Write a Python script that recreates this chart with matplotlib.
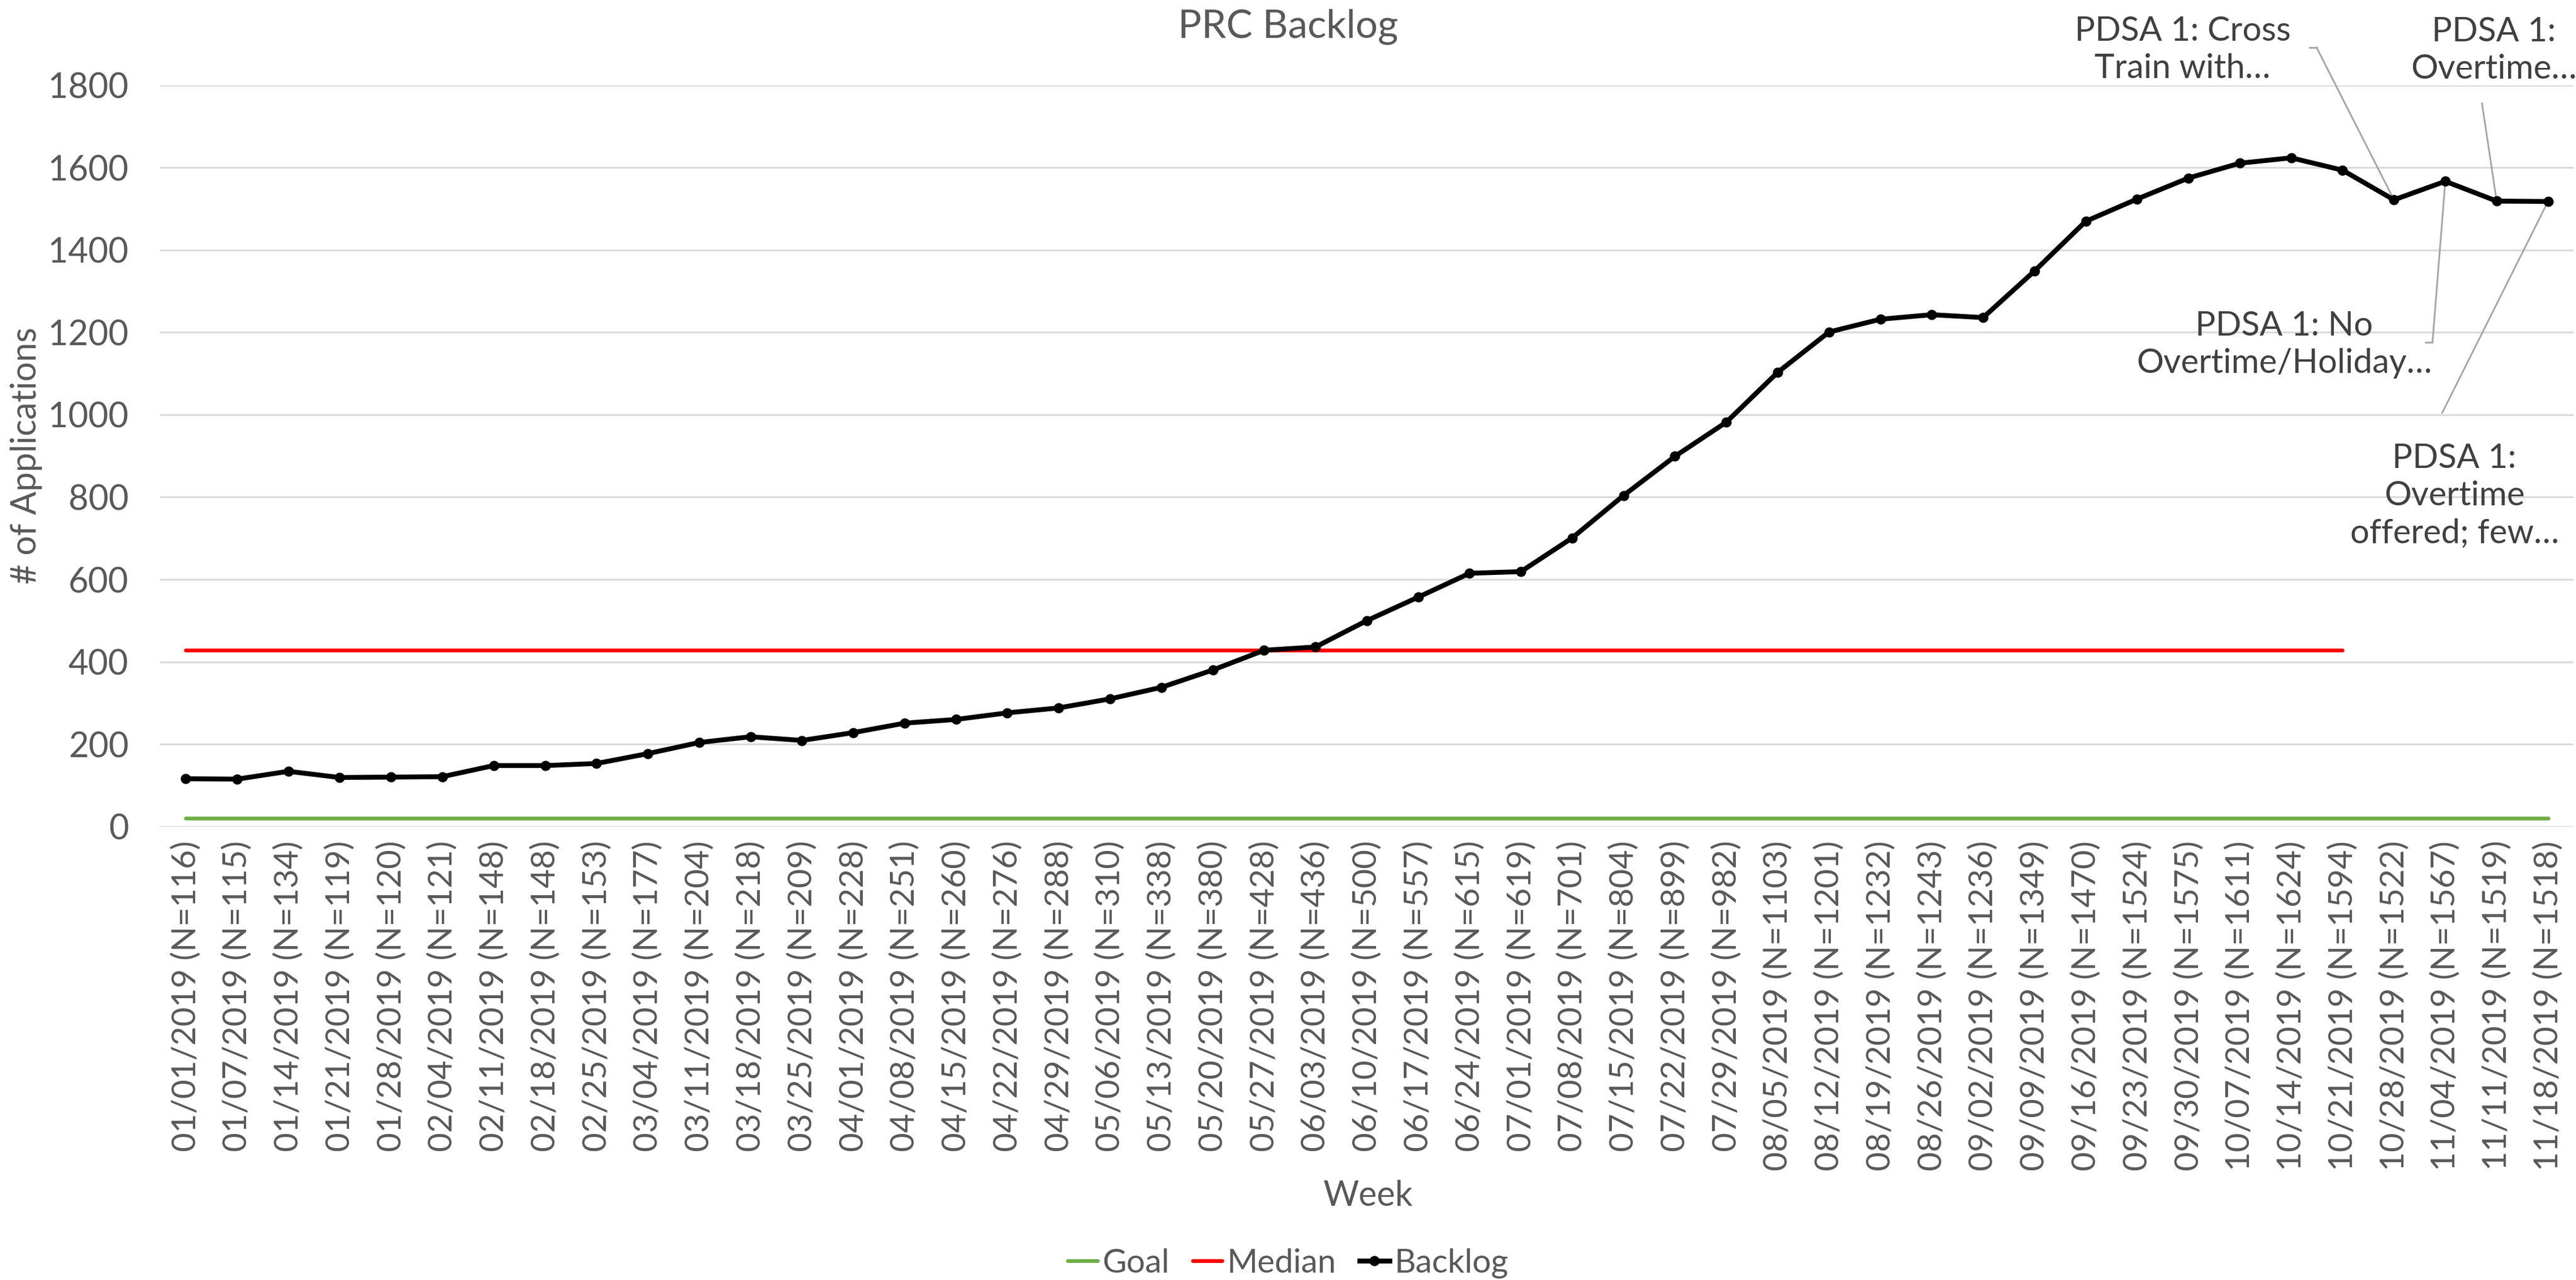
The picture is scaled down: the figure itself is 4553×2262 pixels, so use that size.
import matplotlib
matplotlib.use("Agg")
import matplotlib.pyplot as plt

plt.rcParams["font.family"] = ["Lato", "DejaVu Sans"]

# Weekly backlog data
weeks = [
    "01/01/2019", "01/07/2019", "01/14/2019", "01/21/2019", "01/28/2019", "02/04/2019",
    "02/11/2019", "02/18/2019", "02/25/2019", "03/04/2019", "03/11/2019", "03/18/2019",
    "03/25/2019", "04/01/2019", "04/08/2019", "04/15/2019", "04/22/2019", "04/29/2019",
    "05/06/2019", "05/13/2019", "05/20/2019", "05/27/2019", "06/03/2019", "06/10/2019",
    "06/17/2019", "06/24/2019", "07/01/2019", "07/08/2019", "07/15/2019", "07/22/2019",
    "07/29/2019", "08/05/2019", "08/12/2019", "08/19/2019", "08/26/2019", "09/02/2019",
    "09/09/2019", "09/16/2019", "09/23/2019", "09/30/2019", "10/07/2019", "10/14/2019",
    "10/21/2019", "10/28/2019", "11/04/2019", "11/11/2019", "11/18/2019",
]
backlog = [
    116, 115, 134, 119, 120, 121, 148, 148, 153, 177, 204, 218, 209, 228, 251, 260,
    276, 288, 310, 338, 380, 428, 436, 500, 557, 615, 619, 701, 804, 899, 982, 1103,
    1201, 1232, 1243, 1236, 1349, 1470, 1524, 1575, 1611, 1624, 1594, 1522, 1567,
    1519, 1518,
]
goal_value = 20
median_value = 428
median_weeks = 43  # median line covers the baseline period

y_ticks = [0, 200, 400, 600, 800, 1000, 1200, 1400, 1600, 1800]

# PDSA notes: week index, text, text centre (axes fraction),
# leader start (axes fraction), elbow offset (axes fraction, toward the text)
notes = [
    (43, "PDSA 1: Cross\nTrain with…", (0.838, 1.048), (0.8935, 1.051), -0.003),
    (45, "PDSA 1:\nOvertime…", (0.967, 1.047), (0.962, 0.976), 0.0),
    (44, "PDSA 1: No\nOvertime/Holiday…", (0.880, 0.650), (0.9415, 0.653), -0.003),
    (46, "PDSA 1:\nOvertime\noffered; few…", (0.9506, 0.446), (0.9455, 0.558), 0.0),
]

labels = [f"{w} (N={n})" for w, n in zip(weeks, backlog)]
x = list(range(len(weeks)))

text_gray = "#595959"
note_gray = "#404040"
leader_gray = "#A6A6A6"

fig = plt.figure(figsize=(45.53, 22.62), dpi=100)
ax = fig.add_axes([0.0621, 0.3543, 0.937, 0.579])

ax.plot(x, [goal_value] * len(x), color="#70AD47", lw=4.8, solid_capstyle="round",
        label="Goal", zorder=3)
ax.plot(x[:median_weeks], [median_value] * median_weeks, color="#FF0000", lw=4.8,
        solid_capstyle="round", label="Median", zorder=3)
ax.plot(x, backlog, color="black", lw=6.2, marker="o", markersize=12,
        label="Backlog", zorder=4)

ax.set_xlim(-0.5, len(x) - 0.5)
ax.set_ylim(0, 1800)
ax.set_yticks(y_ticks)
ax.set_xticks(x)
ax.set_xticklabels(labels, rotation=90, fontsize=42, color=text_gray)
ax.tick_params(axis="y", labelsize=44, colors=text_gray, length=0, pad=40)
ax.tick_params(axis="x", length=0, pad=18)
ax.grid(axis="y", color="#D9D9D9", lw=2.2)
ax.set_axisbelow(True)
for s in ax.spines.values():
    s.set_visible(False)

fig.text(0.5, 0.979, "PRC Backlog", fontsize=50, color=text_gray,
         ha="center", va="center")
fig.text(0.0102, 0.644, "# of Applications", fontsize=44, color=text_gray,
         rotation=90, ha="center", va="center")
fig.text(0.531, 0.0655, "Week", fontsize=44, color=text_gray, ha="center", va="center")

for idx, txt, (tx, ty), (lx, ly), elbow in notes:
    ax.text(tx, ty, txt, transform=ax.transAxes, ha="center", va="center",
            fontsize=43, color=note_gray, linespacing=1.28, clip_on=False)
    ax.annotate("", xy=(idx, backlog[idx]), xycoords="data",
                xytext=(lx, ly), textcoords="axes fraction",
                arrowprops=dict(arrowstyle="-", color=leader_gray, lw=2.2,
                                shrinkA=0, shrinkB=0),
                annotation_clip=False)
    if elbow:
        ax.plot([lx + elbow, lx], [ly, ly], transform=ax.transAxes,
                color=leader_gray, lw=2.2, clip_on=False)

leg = fig.legend(loc="center", bbox_to_anchor=(0.5, 0.013), ncol=3, frameon=False,
                 fontsize=42, handlelength=0.9, handletextpad=0.15, columnspacing=0.7)
for t in leg.get_texts():
    t.set_color(text_gray)

fig.savefig("out.png", dpi=100, facecolor="white")
